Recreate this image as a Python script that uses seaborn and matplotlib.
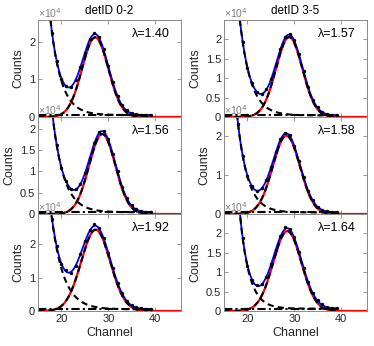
import numpy as np
import pandas as pd
import matplotlib
matplotlib.use('Agg')
import matplotlib.pyplot as plt
import seaborn as sns

# panels in order: top-left, top-right, mid-left, mid-right, bottom-left, bottom-right
# counts are in units of 1e4
channels = list(range(18, 40))
counts_tl = [2.23, 1.50, 1.02, 0.82, 0.80, 0.99, 1.33, 1.70, 2.07, 2.24, 2.13,
             1.80, 1.36, 0.93, 0.56, 0.33, 0.18, 0.11, 0.08, 0.06, 0.05, 0.05]
counts_tr = [2.94, 1.93, 1.26, 0.88, 0.64, 0.60, 0.71, 0.97, 1.35, 1.76, 2.06,
             2.14, 1.98, 1.63, 1.18, 0.77, 0.45, 0.25, 0.13, 0.08, 0.06, 0.04]
counts_ml = [2.42, 1.63, 1.08, 0.77, 0.59, 0.59, 0.70, 0.97, 1.32, 1.67, 1.92,
             1.96, 1.76, 1.40, 1.00, 0.64, 0.37, 0.21, 0.11, 0.07, 0.05, 0.04]
counts_mr = [2.32, 1.50, 0.98, 0.72, 0.59, 0.67, 0.87, 1.20, 1.60, 1.93, 2.10,
             2.04, 1.76, 1.37, 0.95, 0.60, 0.35, 0.19, 0.11, 0.07, 0.05, 0.04]
counts_bl = [2.75, 1.93, 1.40, 1.22, 1.15, 1.36, 1.70, 2.08, 2.41, 2.60, 2.49,
             2.19, 1.74, 1.28, 0.85, 0.53, 0.31, 0.18, 0.11, 0.08, 0.06, 0.05]
counts_br = [3.06, 1.88, 1.17, 0.81, 0.68, 0.69, 0.88, 1.20, 1.58, 1.93, 2.16,
             2.11, 1.90, 1.53, 1.11, 0.75, 0.46, 0.28, 0.17, 0.11, 0.08, 0.07]
all_counts = [counts_tl, counts_tr, counts_ml, counts_mr, counts_bl, counts_br]

# fitted parameters
bg_amp = [8.1, 10.7, 8.3, 8.9, 8.7, 13.7]
bg_tau = [2.28, 2.3, 2.4, 2.2, 2.54, 1.97]
peak_amp = [2.12, 2.06, 1.88, 2.02, 2.43, 2.06]
peak_mu = [27.2, 28.9, 28.7, 28.3, 27.3, 28.5]
peak_sigma = [2.8, 2.8, 2.8, 2.9, 3.1, 3.0]
offset = [0.05, 0.04, 0.04, 0.04, 0.05, 0.06]
lambdas = ['1.40', '1.57', '1.56', '1.58', '1.92', '1.64']
titles = ['detID 0-2', 'detID 3-5']

ymax = [2.58, 2.5, 2.28, 2.5, 2.9, 2.5]
yticks = [[0, 1, 2], [0, 0.5, 1, 1.5, 2], [0, 0.5, 1, 1.5, 2],
          [0, 1, 2], [0, 1, 2], [0, 0.5, 1, 1.5, 2]]

sns.set_style('ticks')
plt.rcParams['font.family'] = ['Liberation Sans', 'DejaVu Sans']
plt.rcParams['xtick.direction'] = 'in'
plt.rcParams['ytick.direction'] = 'in'

fig = plt.figure(figsize=(3.74, 3.46), dpi=100)
lefts = [38 / 374, 224 / 374]
width = 143 / 374
bottoms = [1 - 117 / 346, 1 - 214 / 346, 1 - 311 / 346]
height = 97 / 346

xfit = np.linspace(15, 39, 400)
xfull = np.linspace(15, 45.5, 500)
axis_grey = '#8a8a8a'

for i in range(6):
    row, col = i // 2, i % 2
    ax = fig.add_axes([lefts[col], bottoms[row], width, height])
    bg = bg_amp[i] * np.exp(-(xfit - 15) / bg_tau[i]) + offset[i]
    peak = peak_amp[i] * np.exp(-(xfit - peak_mu[i]) ** 2 / (2 * peak_sigma[i] ** 2))
    peak_full = peak_amp[i] * np.exp(-(xfull - peak_mu[i]) ** 2 / (2 * peak_sigma[i] ** 2))
    total = bg + peak
    const = np.full_like(xfit, offset[i])

    sns.lineplot(x=xfull, y=peak_full, color='red', lw=1.6, ax=ax, estimator=None)
    sns.lineplot(x=xfit, y=total, color='blue', lw=1.3, ax=ax, estimator=None)
    sns.lineplot(x=xfit, y=peak, color='black', lw=1.5, ls=(0, (3, 2)), ax=ax, estimator=None)
    sns.lineplot(x=xfit, y=bg, color='black', lw=1.5, ls=(0, (3, 2)), ax=ax, estimator=None)
    sns.lineplot(x=xfit, y=const, color='black', lw=1.5, ls=(0, (4, 1.5, 1, 1.5)), ax=ax, estimator=None)
    sns.scatterplot(x=channels, y=all_counts[i], color='black', s=6, linewidth=0, ax=ax, zorder=5)

    ax.set_xlim(15, 45.5)
    ax.set_ylim(0, ymax[i])
    ax.set_xticks([20, 30, 40])
    ax.set_yticks(yticks[i])
    ax.set_yticklabels(['{:g}'.format(t) for t in yticks[i]])
    ax.tick_params(top=True, right=True, length=3, width=0.6, color=axis_grey,
                   labelsize=8, labelcolor='#262626', pad=2)
    for sp in ax.spines.values():
        sp.set_visible(True)
        sp.set_color(axis_grey)
        sp.set_linewidth(0.7)
    ax.set_ylabel('Counts', fontsize=9, color='#262626', labelpad=3)
    if row == 2:
        ax.set_xlabel('Channel', fontsize=9, color='#262626', labelpad=2)
    else:
        ax.set_xticklabels([])
        ax.set_xlabel('')
    if row == 0:
        ax.set_title(titles[col], fontsize=8.5, color='black', pad=4)
    ax.text(0.0, 1.0, '×10$^{4}$', transform=ax.transAxes, ha='left', va='bottom',
            fontsize=7.5, color='#808080')
    ax.text(0.92, 0.86, 'λ=' + lambdas[i], transform=ax.transAxes, ha='right',
            va='center', fontsize=9, color='black')

fig.savefig('out.png', dpi=100)
